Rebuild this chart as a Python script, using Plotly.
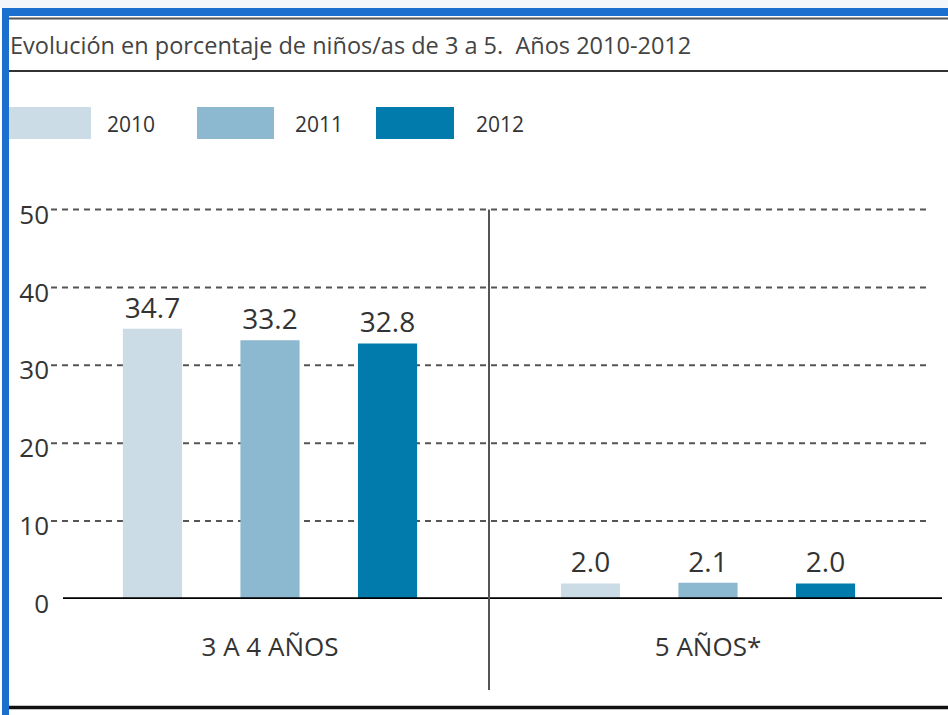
import plotly.graph_objects as go

# ---- data ----
categories = ["3 A 4 AÑOS", "5 AÑOS*"]
years = ["2010", "2011", "2012"]
values_2010 = [34.7, 2.0]
values_2011 = [33.2, 2.1]
values_2012 = [32.8, 2.0]
y_ticks = [0, 10, 20, 30, 40, 50]
title_text = "Evolución en porcentaje de niños/as de 3 a 5.  Años 2010-2012"

series = [values_2010, values_2011, values_2012]
colors = ["#cbdce7", "#8cb8d0", "#007bab"]

# ---- layout geometry (pixels) ----
W, H = 948, 715
L, R, T, B = 51, 927, 190, 599
PX_PER_UNIT = 7.79
FONT = "Open Sans"


def px(x):
    return (x - L) / (R - L)


def py(y):
    return (B - y) / (B - T)


fig = go.Figure()
for name, vals, col in zip(years, series, colors):
    fig.add_trace(go.Bar(
        name=name, x=categories, y=vals,
        marker=dict(color=col, line=dict(width=0)),
        text=[f"{v:.1f}" for v in vals],
        textposition="outside",
        textfont=dict(family=FONT, size=28, color="#333333"),
        cliponaxis=False,
        showlegend=False,
        hoverinfo="skip",
    ))

shapes = []
# page decorations
shapes.append(dict(type="rect", xref="paper", yref="paper", x0=px(0), x1=px(W), y0=py(0), y1=py(8),
                   fillcolor="#f3f6fb", line=dict(width=0), layer="below"))
shapes.append(dict(type="rect", xref="paper", yref="paper", x0=px(2), x1=px(W), y0=py(8), y1=py(16),
                   fillcolor="#1a6fcf", line=dict(width=0)))
shapes.append(dict(type="line", xref="paper", yref="paper", x0=px(9), x1=px(W), y0=py(18.5), y1=py(18.5),
                   line=dict(color="#555555", width=2)))
shapes.append(dict(type="line", xref="paper", yref="paper", x0=px(9), x1=px(W), y0=py(71), y1=py(71),
                   line=dict(color="#333333", width=2)))
shapes.append(dict(type="line", xref="paper", yref="paper", x0=px(9), x1=px(W), y0=py(707.5), y1=py(707.5),
                   line=dict(color="#111111", width=3.5)))

# gridlines
for v in y_ticks[1:]:
    shapes.append(dict(type="line", xref="paper", yref="y", x0=0, x1=1, y0=v, y1=v,
                       line=dict(color="#555555", width=2, dash="6px,5px"), layer="below"))
# zero line
shapes.append(dict(type="line", xref="paper", yref="y", x0=px(63), x1=px(942), y0=0, y1=0,
                   line=dict(color="#000000", width=3.5)))
# separator between groups
shapes.append(dict(type="line", xref="paper", yref="paper", x0=0.5, x1=0.5, y0=py(690), y1=py(209.5),
                   line=dict(color="#555555", width=2)))

# legend swatches + labels
legend_boxes = [(9, 91), (197, 274), (376, 454)]
legend_label_x = [105, 293, 474]
annotations = []
for (x0, x1), lx, col, name in zip(legend_boxes, legend_label_x, colors, years):
    shapes.append(dict(type="rect", xref="paper", yref="paper", x0=px(x0), x1=px(x1), y0=py(139), y1=py(107),
                       fillcolor=col, line=dict(width=0)))
    annotations.append(dict(xref="paper", yref="paper", x=px(lx), y=py(124), text=name, showarrow=False,
                            xanchor="left", yanchor="middle",
                            font=dict(family=FONT, size=21, color="#333333")))
# left border drawn last (on top of first swatch)
shapes.append(dict(type="rect", xref="paper", yref="paper", x0=px(2), x1=px(9), y0=py(8), y1=py(H),
                   fillcolor="#1a6fcf", line=dict(width=0)))

fig.update_layout(
    width=W, height=H,
    margin=dict(l=L, r=W - R, t=T, b=H - B, pad=0),
    paper_bgcolor="white", plot_bgcolor="white",
    barmode="group", bargap=0.195, bargroupgap=0.497,
    title=dict(text=title_text, x=10 / W, xanchor="left", xref="container",
               y=1 - 46 / H, yanchor="middle", yref="container",
               font=dict(family=FONT, size=23.5, color="#444444")),
    shapes=shapes,
    annotations=annotations,
    xaxis=dict(type="category", range=[-0.5, 1.5], showgrid=False, showline=False, zeroline=False,
               ticks="", tickfont=dict(family=FONT, size=26, color="#333333"), ticklabelstandoff=30),
    yaxis=dict(range=[0, (B - T) / PX_PER_UNIT], tickvals=y_ticks, showgrid=False, showline=False,
               zeroline=False, ticks="", tickfont=dict(family=FONT, size=26, color="#333333"),
               ticklabelshift=5, ticklabelstandoff=1),
    showlegend=False,
    hovermode=False,
)

fig.write_html("out.html", config={"displayModeBar": False},
               post_script="document.body.style.margin='0';")
